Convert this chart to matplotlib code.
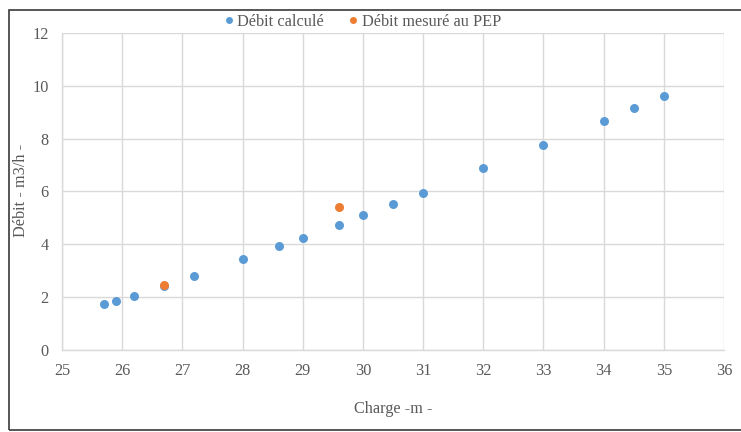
import matplotlib
matplotlib.use("Agg")
import matplotlib.pyplot as plt
from matplotlib.patches import Rectangle
from matplotlib.lines import Line2D

# Flow rate vs. head
charge_calc = [25.7, 25.9, 26.2, 26.7, 27.2, 28.0, 28.6, 29.0, 29.6, 30.0,
               30.5, 31.0, 32.0, 33.0, 34.0, 34.5, 35.0]
debit_calc = [1.72, 1.86, 2.04, 2.40, 2.78, 3.43, 3.91, 4.23, 4.74, 5.10,
              5.53, 5.94, 6.87, 7.76, 8.68, 9.17, 9.63]

charge_mes = [26.7, 29.6]
debit_mes = [2.45, 5.40]

x_ticks = list(range(25, 37))
y_ticks = list(range(0, 13, 2))

label_calc = "Débit calculé"
label_mes = "Débit mesuré au PEP"
x_label = "Charge -m -"
y_label = "Débit - m3/h -"

BLUE = "#5B9BD5"
ORANGE = "#ED7D31"
TEXT = "#595959"
GRID = "#D9D9D9"
FS = 11.7

plt.rcParams["font.family"] = ["Liberation Serif", "DejaVu Serif"]

fig = plt.figure(figsize=(7.41, 4.32), dpi=100)
ax = fig.add_axes([62 / 741, 1 - 349.6 / 432, 662 / 741, (349.6 - 33) / 432])

ax.scatter(charge_calc, debit_calc, s=42, color=BLUE, zorder=3, linewidths=0)
ax.scatter(charge_mes, debit_mes, s=42, color=ORANGE, zorder=4, linewidths=0)

ax.set_xlim(25, 36)
ax.set_ylim(0, 12)
ax.set_xticks(x_ticks)
ax.set_yticks(y_ticks)
ax.grid(True, color=GRID, linewidth=1.0, zorder=0)
ax.set_axisbelow(True)
for side, sp in ax.spines.items():
    if side in ("left", "bottom"):
        sp.set_color(GRID)
        sp.set_linewidth(1.0)
    else:
        sp.set_visible(False)
ax.tick_params(axis="both", length=0, labelsize=FS, labelcolor=TEXT)
ax.tick_params(axis="x", pad=10)
ax.tick_params(axis="y", pad=9.5)

fig.text(393 / 741, 1 - 409 / 432, x_label, ha="center", va="center",
         fontsize=FS, color=TEXT)
fig.text(21 / 741, 1 - 190 / 432, y_label, ha="center", va="center",
         rotation=90, fontsize=FS, color=TEXT)

handles = [
    Line2D([], [], marker="o", linestyle="none", markersize=5,
           markerfacecolor=BLUE, markeredgewidth=0, label=label_calc),
    Line2D([], [], marker="o", linestyle="none", markersize=5,
           markerfacecolor=ORANGE, markeredgewidth=0, label=label_mes),
]
fig.legend(handles=handles, loc="center", bbox_to_anchor=(361 / 741, 1 - 22 / 432),
           ncol=2, frameon=False, fontsize=FS, labelcolor=TEXT,
           handletextpad=0.0, columnspacing=1.3, handlelength=1.0,
           borderaxespad=0)

# chart area border
fig.patches.append(Rectangle((9 / 741, 1 - 430 / 432), 740 / 741, 420 / 432,
                             transform=fig.transFigure, fill=False,
                             edgecolor="#3a3a3a", linewidth=1.2))

fig.savefig("out.png", dpi=100)
